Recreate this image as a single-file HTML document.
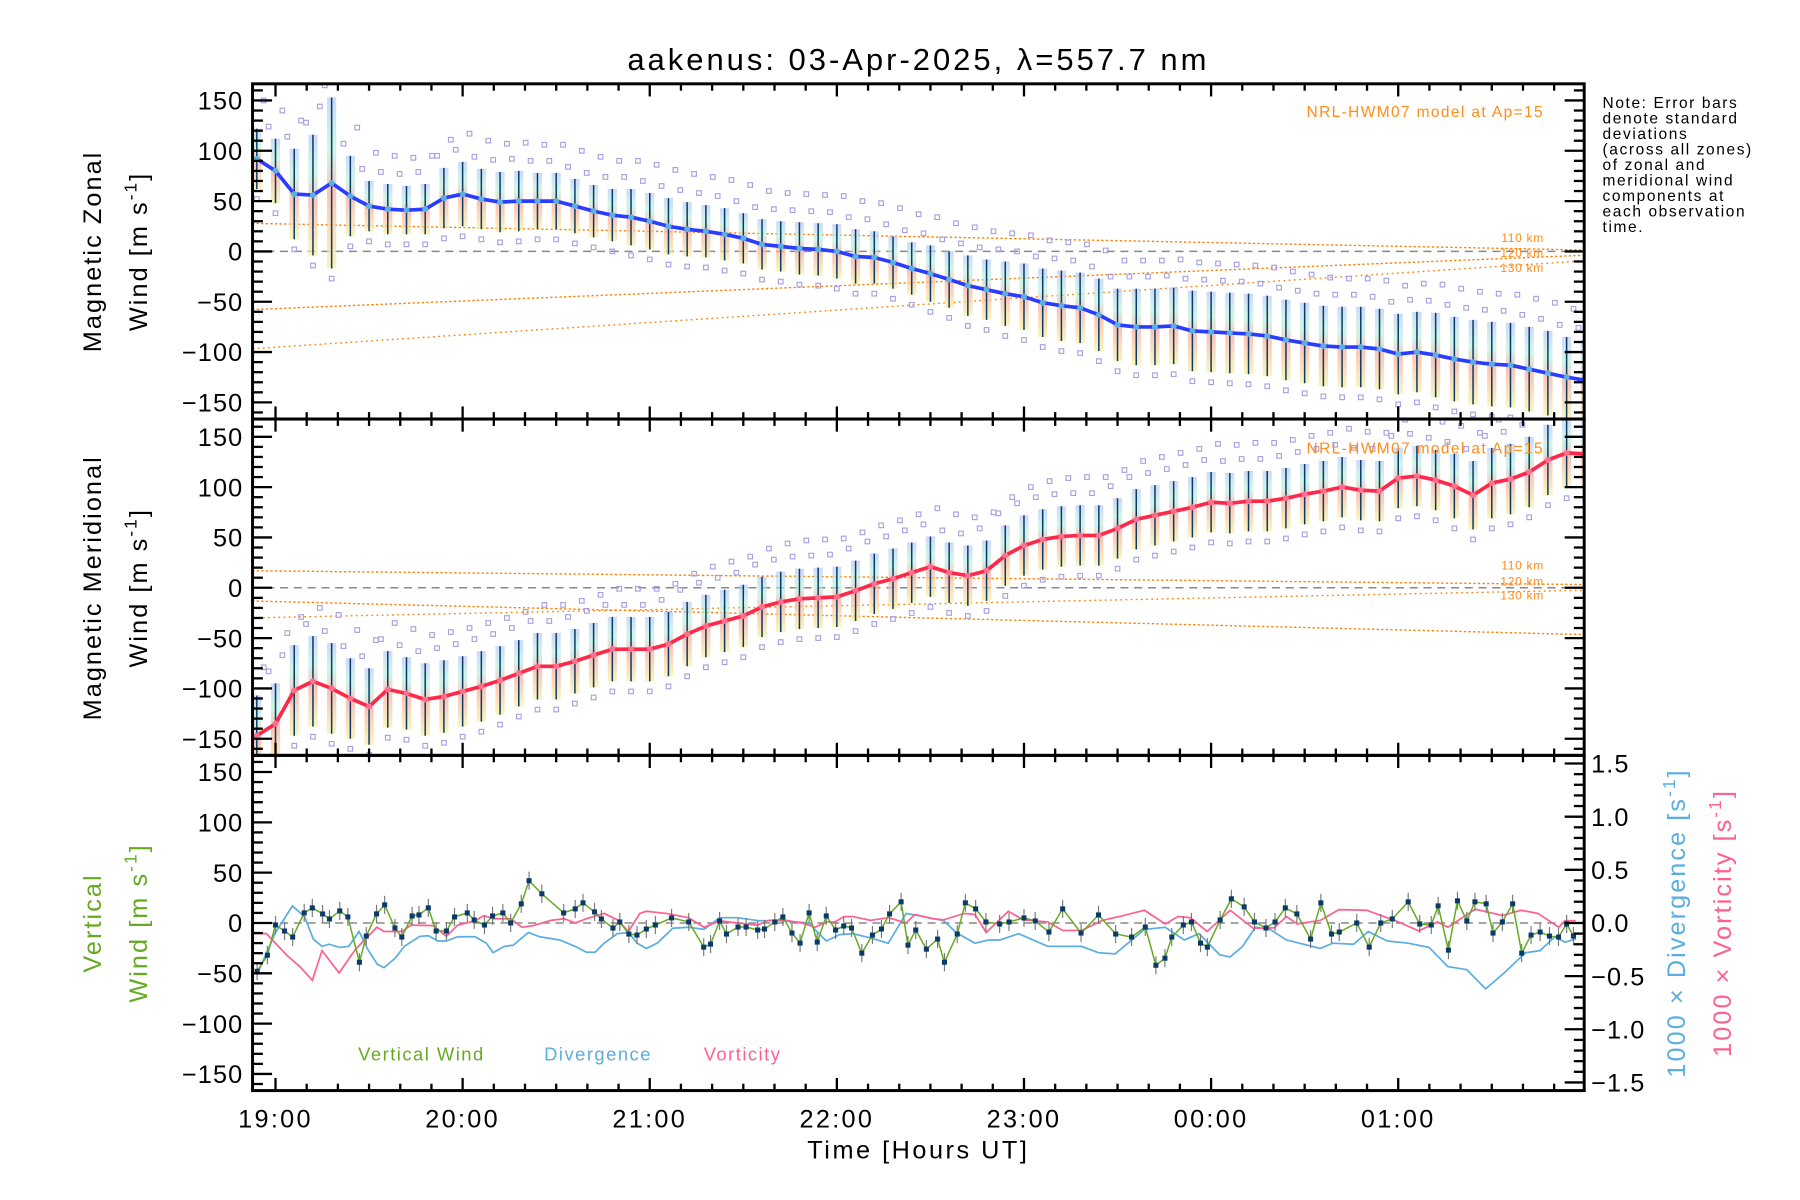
<!DOCTYPE html>
<html><head><meta charset="utf-8"><title>aakenus wind</title>
<style>
html,body{margin:0;padding:0;background:#fff;}
svg{display:block;font-family:"Liberation Sans",sans-serif;}
</style></head>
<body>
<svg id="chart" xmlns="http://www.w3.org/2000/svg" width="1800" height="1200" viewBox="0 0 1568 1045.3">
<defs>
<clipPath id="c1"><rect x="220" y="73" width="1160" height="292"/></clipPath>
<clipPath id="c2"><rect x="220" y="365" width="1160" height="293"/></clipPath>
<clipPath id="c3"><rect x="220" y="658" width="1160" height="292"/></clipPath>
<linearGradient id="bandg" x1="0" y1="0" x2="0" y2="1">
<stop offset="0" stop-color="#b8c8f8" stop-opacity="0.7"/>
<stop offset="0.3" stop-color="#b0f0d8" stop-opacity="0.6"/>
<stop offset="0.55" stop-color="#fab0a0" stop-opacity="0.75"/>
<stop offset="1" stop-color="#f8f0a0" stop-opacity="0.7"/>
</linearGradient>
</defs>
<text x="800" y="61" font-size="27" letter-spacing="2.6" text-anchor="middle" fill="#000">aakenus: 03-Apr-2025, λ=557.7 nm</text>
<g id="plots"></g>
<g id="axes"></g>
<text transform="translate(88,219) rotate(-90)" font-size="22" letter-spacing="1.8" text-anchor="middle">Magnetic Zonal</text>
<text transform="translate(128,219) rotate(-90)" font-size="22" letter-spacing="1.8" text-anchor="middle">Wind [m s<tspan dy="-9" font-size="15">-1</tspan><tspan dy="9">]</tspan></text>
<text transform="translate(88,512) rotate(-90)" font-size="22" letter-spacing="1.8" text-anchor="middle">Magnetic Meridional</text>
<text transform="translate(128,512) rotate(-90)" font-size="22" letter-spacing="1.8" text-anchor="middle">Wind [m s<tspan dy="-9" font-size="15">-1</tspan><tspan dy="9">]</tspan></text>
<text transform="translate(88,804) rotate(-90)" font-size="22" letter-spacing="1.8" text-anchor="middle" fill="#66aa22">Vertical</text>
<text transform="translate(128,804) rotate(-90)" font-size="22" letter-spacing="1.8" text-anchor="middle" fill="#66aa22">Wind [m s<tspan dy="-9" font-size="15">-1</tspan><tspan dy="9">]</tspan></text>
<text transform="translate(1468,804) rotate(-90)" font-size="22" letter-spacing="1.8" text-anchor="middle" fill="#5aaee0">1000 × Divergence [s<tspan dy="-9" font-size="15">-1</tspan><tspan dy="9">]</tspan></text>
<text transform="translate(1508,804) rotate(-90)" font-size="22" letter-spacing="1.8" text-anchor="middle" fill="#ff6090">1000 × Vorticity [s<tspan dy="-9" font-size="15">-1</tspan><tspan dy="9">]</tspan></text>
<text x="800" y="1009" font-size="22" letter-spacing="2.2" text-anchor="middle">Time [Hours UT]</text>
<g font-size="13.5" letter-spacing="1.4" fill="#000">
<text x="1396" y="94">Note: Error bars</text>
<text x="1396" y="107.5">denote standard</text>
<text x="1396" y="121">deviations</text>
<text x="1396" y="134.5">(across all zones)</text>
<text x="1396" y="148">of zonal and</text>
<text x="1396" y="161.5">meridional wind</text>
<text x="1396" y="175">components at</text>
<text x="1396" y="188.5">each observation</text>
<text x="1396" y="202">time.</text>
</g>
<text x="1345" y="102" font-size="13.5" letter-spacing="1.2" fill="#ff8c1a" text-anchor="end">NRL-HWM07 model at Ap=15</text>
<text x="1345" y="395" font-size="13.5" letter-spacing="1.2" fill="#ff8c1a" text-anchor="end">NRL-HWM07 model at Ap=15</text>
<g font-size="10.5" letter-spacing="0.6" fill="#ff8c1a" text-anchor="end">
<text x="1345" y="211">110 km</text><text x="1345" y="224">120 km</text><text x="1345" y="237">130 km</text></g>
<g font-size="10.5" letter-spacing="0.6" fill="#ff8c1a" text-anchor="end">
<text x="1345" y="496">110 km</text><text x="1345" y="510">120 km</text><text x="1345" y="522">130 km</text></g>
<g font-size="16" letter-spacing="1.3">
<text x="312" y="924" fill="#66aa22">Vertical Wind</text>
<text x="474" y="924" fill="#5aaee0">Divergence</text>
<text x="613" y="924" fill="#ff6090">Vorticity</text>
</g>
</svg>
<script>
// ---- data ----
const obsHours=[-0.1,0,0.1,0.2,0.3,0.4,0.5,0.6,0.7,0.8,0.9,1.0,1.1,1.2,1.3,1.4,1.5,1.6,1.7,1.8,1.9,2.0,2.1,2.2,2.3,2.4,2.5,2.6,2.7,2.8,2.9,3.0,3.1,3.2,3.3,3.4,3.5,3.6,3.7,3.8,3.9,4.0,4.1,4.2,4.3,4.4,4.5,4.6,4.7,4.8,4.9,5.0,5.1,5.2,5.3,5.4,5.5,5.6,5.7,5.8,5.9,6.0,6.1,6.2,6.3,6.4,6.5,6.6,6.7,6.8,6.9,7.0];
const zonal=[92,80,57,56,68,55,45,42,41,42,53,57,52,49,50,50,50,45,40,36,34,30,25,22,20,17,13,7,5,3,2,0,-5,-6,-11,-17,-22,-28,-34,-38,-42,-45,-51,-54,-56,-63,-73,-75,-75,-74,-79,-80,-81,-82,-84,-88,-91,-94,-95,-95,-97,-102,-100,-103,-107,-110,-112,-113,-117,-121,-125,-128];
const zonalSd=[30,32,45,60,85,40,25,25,24,25,30,32,30,30,30,28,28,27,26,26,28,28,28,27,26,26,25,25,25,26,26,27,27,26,26,26,28,28,30,30,32,33,34,35,35,36,36,38,38,38,40,40,40,40,40,40,40,40,40,40,40,40,40,42,42,42,42,42,42,42,40,40];
const merid=[-147,-135,-102,-93,-100,-110,-118,-101,-105,-111,-108,-103,-98,-92,-85,-78,-78,-73,-67,-61,-61,-61,-56,-46,-38,-33,-28,-19,-14,-11,-10,-9,-3,4,9,15,21,15,12,17,32,42,48,51,52,52,59,68,72,76,80,85,84,86,86,89,93,96,100,97,96,109,111,107,101,92,104,108,115,127,134,133];
const meridSd=[40,40,45,45,45,40,38,38,36,36,36,35,35,34,33,33,33,32,32,32,32,32,32,32,31,31,31,30,30,30,30,30,30,30,30,30,30,30,30,30,30,30,30,30,30,30,30,30,30,30,30,30,30,30,30,30,30,30,30,30,30,30,30,30,32,34,35,35,35,35,35,35];
const vertMin=[-5.9,-2.6,0,2.9,5.5,9.2,11.8,15.1,17.3,20.6,23.2,26.9,29.1,32.4,35.0,38.3,40.5,43.8,46.0,49.0,51.5,54.8,57.4,61.5,63.7,67.0,69.6,72.9,75.4,78.8,81.3,85.4,92.4,96.1,98.6,102.3,104.5,108.2,110.4,113.3,115.9,118.9,121.8,127.0,132.5,137.3,139.5,142.4,144.6,148.3,150.9,154.6,156.8,160.1,162.7,165.6,168.2,171.1,173.7,176.6,179.6,182.2,184.7,188.0,191.4,194.3,196.9,200.6,202.8,205.3,208.7,212.3,214.5,218.6,221.2,224.5,227.8,232.2,235.2,240.0,243.6,248.0,252.4,258.3,263.9,269.4,274.5,278.9,282.3,285.2,287.4,291.1,293.7,296.6,298.8,302.9,306.5,310.6,313.9,317.6,320.5,323.8,327.5,331.9,335.2,338.6,341.1,346.7,350.7,354.4,358.1,363.2,366.9,370.6,372.8,376.1,379.0,382.0,384.6,388.2,390.4,393.4,396.7,399.6,402.6,405.5,408.5,411.4,414.0,416.2];
const vertVal=[-48,-32,-2,-8,-14,10,15,9,4,12,6,-39,-13,9,18,-5,-14,7,8,15,-8,-8,6,10,3,-2,7,10,0,19,42,29,10,14,20,11,4,-5,1,-11,-12,-6,-2,5,1,-24,-21,2,-11,-4,-4,-7,-6,1,6,-10,-20,10,-19,7,-7,-3,-5,-30,-12,-6,9,21,-22,-7,-26,-16,-39,-11,20,14,1,-1,1,5,2,-9,14,-10,8,-11,-14,-4,-42,-35,-14,-2,1,-20,-24,3,24,16,1,-5,1,15,9,-16,20,-11,-9,0,-24,0,4,21,-1,-2,17,-27,22,2,21,19,-10,1,19,-30,-12,-9,-13,-14,-1,-13];
const divMin=[-5.7,0,5.4,9.3,12.1,14.9,17.1,20.6,23.5,26.8,29.6,32.7,34.8,38.4,41.3,46.3,49.1,52.0,54.8,58.4,64.0,67.6,69.8,73.3,76.2,81.1,84.7,91.1,96.1,99.7,102.5,105.4,109.6,113.2,116.0,118.9,122.4,127.4,132.4,137.4,142.4,148.1,155.2,162.3,170.9,176.6,180.8,185.1,190.8,196.5,202.2,207.9,214.3,218.2,224.3,228.9,232.3,238.3,247.7,258.5,263.8,269.2,274.6,278.6,285.3,291.4,296.1,302.8,306.1,310.1,314.2,318.9,324.2,329.6,335.0,339.0,345.7,350.4,356.5,363.2,369.9,375.9,382.0,388.0,394.0,400.8,405.5,410.2,413.5,416.9];
const divVal=[-0.47,-0.09,0.16,0.06,-0.15,-0.22,-0.2,-0.23,-0.22,-0.08,-0.25,-0.39,-0.42,-0.33,-0.22,-0.125,-0.12,-0.17,-0.17,-0.13,-0.13,-0.19,-0.28,-0.22,-0.21,-0.09,-0.13,-0.16,-0.22,-0.275,-0.275,-0.19,-0.1,-0.09,-0.19,-0.24,-0.19,-0.05,-0.04,-0.06,0.05,0.05,0.02,0.02,0,-0.17,-0.11,-0.1,-0.14,-0.19,0.09,0.06,0.02,-0.09,-0.19,-0.16,-0.16,-0.1,-0.22,-0.22,-0.28,-0.29,-0.16,-0.06,-0.04,-0.16,-0.1,-0.3,-0.32,-0.22,-0.04,-0.06,-0.16,-0.2,-0.24,-0.19,-0.2,-0.08,-0.17,-0.19,-0.23,-0.41,-0.44,-0.62,-0.47,-0.28,-0.26,-0.13,-0.18,-0.15];
const vorMin=[-8.6,-2.9,3.5,7.8,11.8,14.9,20.4,25.6,32.5,34.8,40.6,43.4,50.5,54.8,58.4,64.0,66.9,69.8,75.4,79.0,82.6,88.3,92.6,96.1,99.7,105.4,109.6,113.2,116.8,118.9,125.3,132.4,137.4,142.4,148.1,154.5,158.1,163.8,168.7,173.0,176.6,179.4,182.3,185.1,190.8,196.5,202.2,205.0,210.7,214.2,220.9,224.3,227.9,235.0,239.7,247.7,252.4,258.5,265.2,270.5,278.6,285.3,289.4,293.4,298.7,306.1,313.5,320.2,324.2,327.6,335.0,341.0,349.8,359.2,366.6,372.6,375.9,384.7,393.4,399.4,404.8,411.5,413.5,416.9];
const vorVal=[-0.1,-0.1,-0.3,-0.41,-0.54,-0.26,-0.47,-0.25,-0.04,-0.08,-0.08,-0.02,-0.025,-0.125,-0.02,0.02,0.07,0.04,0.04,-0.04,-0.025,0.025,0.04,0,0.04,0.09,0.03,-0.08,0.09,0.11,0.09,0.05,-0.04,0.02,0,-0.02,0.025,0.025,0,-0.04,0.01,0.01,0.06,0.06,0.025,0.05,0,0.08,0.04,0.03,0.09,0.08,-0.09,0.11,0.03,0.01,-0.07,-0.07,0.025,0.06,0.12,-0.01,0.06,0.05,-0.08,0.12,-0.05,-0.045,0.06,-0.01,0.025,0.125,0.12,0.02,-0.075,0.01,-0.04,0.13,0.07,0.12,0.09,-0.04,0.02,0.02];
const modelHours=[-0.15,7.1];
const zonalModel110=[28,1];
const zonalModel120=[-58,-3];
const zonalModel130=[-97,-8];
const meridModel110=[17,3];
const meridModel120=[-13,-47];
const meridModel130=[-30,-2];
const xTickLabels=["19:00","20:00","21:00","22:00","23:00","00:00","01:00"];
const leftTicks=[150,100,50,0,-50,-100,-150];
const rightTicks=[1.5,1.0,0.5,0.0,-0.5,-1.0,-1.5];

// ---- axis functions ----
const NS="http://www.w3.org/2000/svg";
const L=220,R=1380;
const panels=[{top:73,bot:365,zero:219},{top:365,bot:658,zero:512},{top:658,bot:950,zero:804}];
const KY=0.8767, KR=92.6;
function xH(h){return 240+h*163;}
function xM(m){return xH(m/60);}
function yP(p,v){return panels[p].zero-v*KY;}
function yR(r){return 804-r*KR;}
function mk(tag,attrs,parent){const e=document.createElementNS(NS,tag);for(const k in attrs)e.setAttribute(k,attrs[k]);parent.appendChild(e);return e;}
const plots=document.getElementById('plots');
const axes=document.getElementById('axes');

const g1=mk('g',{'clip-path':'url(#c1)'},plots);


const g2=mk('g',{'clip-path':'url(#c2)'},plots);


const g3=mk('g',{'clip-path':'url(#c3)'},plots);



function zeroLine(g,p){const l=mk('line',{x1:L,x2:R,y1:yP(p,0),y2:yP(p,0),stroke:'#888','stroke-width':1.3,'stroke-dasharray':'7,5'},g);

}

function model(g,p,vals,name,dash){
  const l=mk('line',{x1:xH(modelHours[0]),x2:xH(modelHours[1]),y1:yP(p,vals[0]),y2:yP(p,vals[1]),stroke:'#ff8000','stroke-width':1.2,'stroke-dasharray':dash},g);
  
  
}

function windPanel(g,p,vals,sds,lineColor,nm){
  zeroLine(g,p);
  for(let i=0;i<obsHours.length;i++){
    const x=xH(obsHours[i]),v=vals[i],s=sds[i];
    const b=mk('rect',{x:x-4,y:yP(p,v+s),width:8,height:2*s*KY,fill:'url(#bandg)'},g);
    
    
    const sq=[v+s+12,v-s-10,v+s+28];
    for(let j=0;j<sq.length;j++){
      const q=mk('rect',{x:x-2+(j-1)*6,y:yP(p,sq[j])-2,width:4,height:4,fill:'none',stroke:'#a8a0e0','stroke-width':1},g);
      
      
    }
    const e=mk('line',{x1:x,x2:x,y1:yP(p,v+s),y2:yP(p,v-s),stroke:'#0a3a6a','stroke-width':1.3},g);
    
    
  }
  let d='';
  for(let i=0;i<obsHours.length;i++)d+=(i?'L':'M')+xH(obsHours[i]).toFixed(1)+' '+yP(p,vals[i]).toFixed(1);
  const pl=mk('path',{d:d,fill:'none',stroke:lineColor,'stroke-width':3.2,'stroke-linejoin':'round'},g);
  
  
  for(let i=0;i<obsHours.length;i++){
    const c=mk('circle',{cx:xH(obsHours[i]),cy:yP(p,vals[i]),r:2.6,fill:p===0?'#5ab0e0':'#ff7090'},g);
    
    
  }
}
model(g1,0,zonalModel110,'zonal-model-110km','2,2');
model(g1,0,zonalModel120,'zonal-model-120km','2,2');
model(g1,0,zonalModel130,'zonal-model-130km','1.5,3');
windPanel(g1,0,zonal,zonalSd,'#2a3cff','zonal');
model(g2,1,meridModel110,'meridional-model-110km','2,2');
model(g2,1,meridModel120,'meridional-model-120km','2,2');
model(g2,1,meridModel130,'meridional-model-130km','1.5,3');
windPanel(g2,1,merid,meridSd,'#ff2848','meridional');

// panel 3
zeroLine(g3,2);
function seriesPath(g,ts,vs,yf,color,w,name){
  let d='';
  for(let i=0;i<ts.length;i++)d+=(i?'L':'M')+xM(ts[i]).toFixed(1)+' '+yf(vs[i]).toFixed(1);
  const pth=mk('path',{d:d,fill:'none',stroke:color,'stroke-width':w},g);
  
  
}
seriesPath(g3,divMin,divVal,yR,'#5aaee0',1.5,'divergence-line');
seriesPath(g3,vorMin,vorVal,yR,'#ff6090',1.5,'vorticity-line');
for(let i=0;i<vertMin.length;i++){
  const x=xM(vertMin[i]);
  const e=mk('line',{x1:x,x2:x,y1:yP(2,vertVal[i]+9),y2:yP(2,vertVal[i]-9),stroke:'#777','stroke-width':1},g3);
  
  
}
seriesPath(g3,vertMin,vertVal,v=>yP(2,v),'#66aa22',1.3,'vertical-wind-line');
for(let i=0;i<vertMin.length;i++){
  const q=mk('rect',{x:xM(vertMin[i])-2.2,y:yP(2,vertVal[i])-2.2,width:4.4,height:4.4,fill:'#0a3a6a'},g3);
  
  
}

// ---- axes ----
for(let p=0;p<3;p++){
  const P=panels[p];
  const fr=mk('rect',{x:L,y:P.top,width:R-L,height:P.bot-P.top,fill:'none',stroke:'#000','stroke-width':2.6},axes);
  
  
  for(let v=-160;v<=160;v+=10){
    const y=yP(p,v); if(y<P.top+1||y>P.bot-1)continue;
    const len=(v%50===0)?17:9;
    const t=mk('line',{x1:L,x2:L+len,y1:y,y2:y,stroke:'#000','stroke-width':2},axes);
    
    
    if(p<2){
      const t2=mk('line',{x1:R,x2:R-len,y1:y,y2:y,stroke:'#000','stroke-width':2},axes);
      
      
    }
  }
  for(let i=0;i<leftTicks.length;i++){
    const lb=mk('text',{x:212,y:yP(p,leftTicks[i])+8,'font-size':22,'letter-spacing':1,'text-anchor':'end'},axes);
    lb.textContent=(leftTicks[i]<0?'\u2212':'')+Math.abs(leftTicks[i]);
    
    
  }
  for(let m=-10;m<=430;m+=10){
    const x=xM(m); if(x<L+1||x>R-1)continue;
    const len=(m%60===0)?11:6;
    const a=mk('line',{x1:x,x2:x,y1:P.top,y2:P.top+len,stroke:'#000','stroke-width':2},axes);
    
    
    const b=mk('line',{x1:x,x2:x,y1:P.bot,y2:P.bot-len,stroke:'#000','stroke-width':2},axes);
    
    
  }
}
for(let r=-1.5;r<=1.55;r+=0.1){
  const rr=Math.round(r*10)/10;
  const y=yR(rr); if(y<659||y>949)continue;
  const len=(Math.round(rr*10)%5===0)?17:9;
  const t=mk('line',{x1:R,x2:R-len,y1:y,y2:y,stroke:'#000','stroke-width':2},axes);
  
  
}
for(let i=0;i<rightTicks.length;i++){
  const lb=mk('text',{x:1386,y:yR(rightTicks[i])+8,'font-size':22,'letter-spacing':1},axes);
  lb.textContent=(rightTicks[i]<0?'\u2212':'')+Math.abs(rightTicks[i]).toFixed(1);
  
  
}
for(let i=0;i<xTickLabels.length;i++){
  const lb=mk('text',{x:xH(i),y:982,'font-size':22,'letter-spacing':2,'text-anchor':'middle'},axes);
  lb.textContent=xTickLabels[i];
  
  
}
</script>
</body></html>
